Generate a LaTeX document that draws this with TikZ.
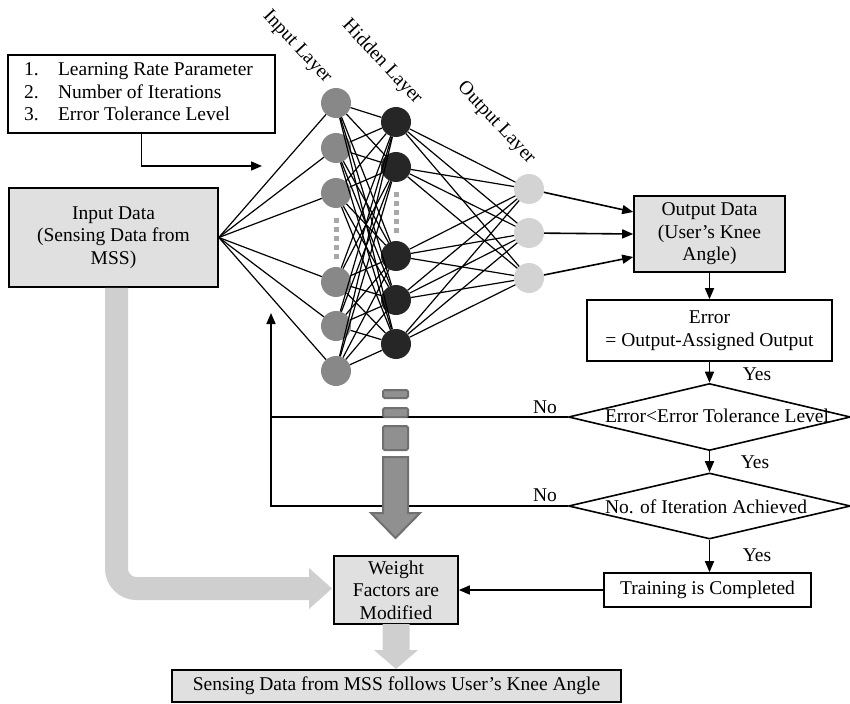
\documentclass[tikz,border=0pt]{standalone}
\usepackage{fontspec}
\setmainfont{Liberation Serif}
\usetikzlibrary{arrows.meta,shapes.geometric,calc}
\definecolor{boxgray}{HTML}{E0E0E0}
\definecolor{inGray}{HTML}{888888}
\definecolor{hidGray}{HTML}{262626}
\definecolor{outGray}{HTML}{D3D3D3}
\definecolor{lightArrow}{HTML}{CFCFCF}
\definecolor{midFill}{HTML}{909090}
\definecolor{midEdge}{HTML}{707070}
\definecolor{dotGray}{HTML}{A8A8A8}
\begin{document}
\begin{tikzpicture}[x=1pt,y=-1pt,
  every node/.style={font=\fontsize{19.5}{22.5}\selectfont},
  box/.style={draw,line width=1.6pt,inner sep=0pt,align=center},
  gbox/.style={box,fill=boxgray},
  neuron/.style={circle,minimum size=30pt,inner sep=0pt},
  wire/.style={line width=1.2pt},
  conn/.style={line width=1.6pt},
  arr/.style={conn,-{Triangle[length=11pt,width=9pt]}},
  decision/.style={draw,shape=diamond,line width=1.6pt,minimum width=282pt,inner sep=0pt},
  dotline/.style={dotGray,line width=5pt,dash pattern=on 5pt off 4pt},
  midshape/.style={fill=midFill,draw=midEdge,line width=2pt}
]
\useasboundingbox (0,0) rectangle (850,703);

% parameter box
\node[box,minimum width=267pt,minimum height=78pt] (par) at (141.5,94)
 {\begin{tabular}{@{}p{34pt}@{}l@{}}1.&Learning Rate Parameter\\2.&Number of Iterations\\3.&Error Tolerance Level\end{tabular}\hspace*{6pt}};

% input data
\node[gbox,minimum width=209pt,minimum height=99pt] (in) at (113.5,237.5) {Input Data\\(Sensing Data from\\MSS)};

% neurons
\foreach \y [count=\i] in {103,148,193,282,326,371} \node[neuron,fill=inGray] (i\i) at (336,\y) {};
\foreach \y [count=\i] in {122,167,256,300,344} \node[neuron,fill=hidGray] (h\i) at (396,\y) {};
\foreach \y [count=\i] in {189,233,278} \node[neuron,fill=outGray] (o\i) at (529,\y) {};

\foreach \i in {1,...,6} \draw[wire] (in.east) -- (i\i);
\foreach \i in {1,...,6} {\foreach \j in {1,...,5} {\draw[wire] (i\i) -- (h\j);}}
\foreach \j in {1,...,5} {\foreach \k in {1,...,3} {\draw[wire] (h\j) -- (o\k);}}

\draw[dotline] (336,218) -- (336,259);
\draw[dotline] (396,192) -- (396,233);

% layer labels
\node[rotate=-47] (lin) at (297,47) {Input Layer};
\node[rotate=-47] (lhid) at (382,62) {Hidden Layer};
\node[rotate=-47] (lout) at (496,123) {Output Layer};

% output data & error
\node[gbox,minimum width=151pt,minimum height=76pt] (od) at (709.5,234) {Output Data\\(User’s Knee\\Angle)};
\draw[arr] (o1) -- ([yshift=22pt]od.west);
\draw[arr] (o2) -- (od.west);
\draw[arr] (o3) -- ([yshift=-23pt]od.west);

\node[box,minimum width=245pt,minimum height=61pt] (err) at (709.5,330.5) {Error\\= Output-Assigned Output};
\draw[arr] (od) -- (err);

% decisions
\node[decision,minimum height=67pt] (d1) at (709.5,417) {};
\node (d1t) at (717,416) {Error<Error Tolerance Level};
\node[decision,minimum height=66pt] (d2) at (709.5,506) {};
\node (d2t) at (706,507) {No. of Iteration Achieved};
\draw[arr] (err) -- (d1);
\draw[arr] (d1) -- (d2);

\node (y1) at (757,374) {Yes};
\node (y2) at (755,462) {Yes};
\node (y3) at (757,555) {Yes};
\node (n1) at (545,407) {No};
\node (n2) at (545,495) {No};

% training & weights
\node[box,minimum width=207pt,minimum height=34pt] (tr) at (707.5,590) {Training is Completed};
\draw[arr] (d2.south) -- (d2.south |- tr.north);
\node[gbox,minimum width=124pt,minimum height=68pt] (wf) at (396,590) {Weight\\Factors are\\Modified};
\draw[arr] (tr) -- (wf);

\node[gbox,minimum width=449pt,minimum height=32pt] (res) at (396.5,686) {Sensing Data from MSS follows User’s Knee Angle};

% feedback
\coordinate (fb) at (271,313);
\draw[arr] (d2.west) -| (fb);
\draw[conn] (d1.west) -- (d1.west -| fb);

% parameter arrow
\coordinate (pin) at (262,166);
\draw[arr] (par.south) |- (pin);

% light gray L arrow
\draw[lightArrow,line width=23pt,rounded corners=20pt] ([xshift=3pt]in.south) |- (310,588.5);
\fill[lightArrow] (309,568) -- (332,588.5) -- (309,609) -- cycle;

% light gray down arrow
\fill[lightArrow] (382.5,624) -- (382.5,650) -- (374,650) -- (396,669) -- (418,650) -- (409.5,650) -- (409.5,624) -- cycle;

% middle dark arrow
\filldraw[midshape,rounded corners=1.5pt] (383,390) rectangle (408,398);
\filldraw[midshape,rounded corners=1.5pt] (383,408) rectangle (408,417);
\filldraw[midshape,rounded corners=1.5pt] (383,426) rectangle (408,450);
\filldraw[midshape] (383,457) -- (383,513) -- (371,513) -- (395.5,538) -- (420,513) -- (408,513) -- (408,457) -- cycle;
\end{tikzpicture}
\end{document}
